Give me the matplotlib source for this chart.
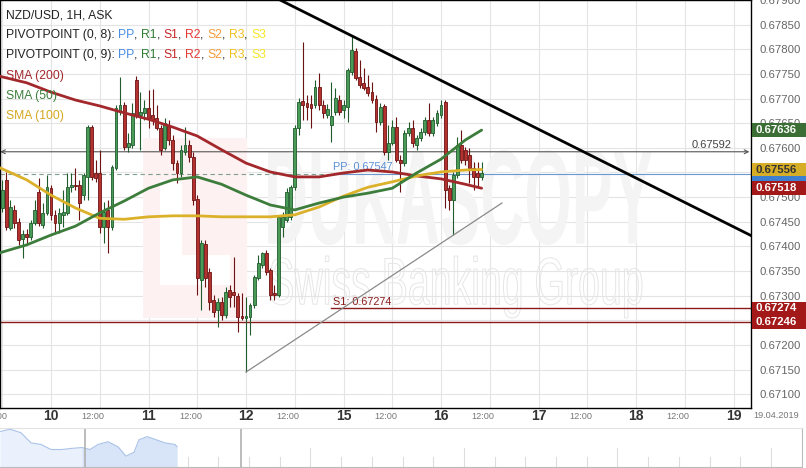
import numpy as np
import matplotlib
matplotlib.use("Agg")
import matplotlib.pyplot as plt
from matplotlib.patches import Rectangle, PathPatch
from matplotlib.textpath import TextPath
from matplotlib.font_manager import FontProperties
from matplotlib.transforms import Affine2D, blended_transform_factory

plt.rcParams['font.family'] = ['Liberation Sans', 'DejaVu Sans']

# time axis in hours, 0 = 09.04 00:00, weekend removed (12.04 -> 15.04)
hours = np.arange(12, 131)

opens = [.67478, .67535, .67437, .67474, .67449, .67415, .67425, .67419, .67447, .67510,
         .67443, .67468, .67518, .67464, .67447, .67464, .67468, .67520, .67524, .67524,
         .67504, .67541, .67642, .67549, .67549, .67439, .67474, .67439, .67559, .67673,
         .67687, .67602, .67606, .67738, .67667, .67671, .67681, .67667, .67660, .67640,
         .67600, .67646, .67616, .67569, .67549, .67591, .67606, .67581, .67496, .67332,
         .67405, .67348, .67291, .67271, .67287, .67261, .67311, .67307, .67299, .67259,
         .67254, .67256, .67281, .67336, .67362, .67386, .67352, .67305, .67301, .67439,
         .67453, .67460, .67520, .67640, .67695, .67691, .67689, .67687, .67723, .67687,
         .67667, .67646, .67673, .67697, .67677, .67683, .67754, .67796, .67744, .67732,
         .67723, .67713, .67699, .67652, .67685, .67591, .67610, .67642, .67575, .67569,
         .67630, .67640, .67606, .67620, .67632, .67656, .67630, .67650, .67667, .67693,
         .67518, .67494, .67545, .67606, .67596, .67585, .67559, .67549, .67541]
highs = [.67535, .67551, .67494, .67484, .67457, .67433, .67435, .67453, .67494, .67539,
         .67488, .67545, .67524, .67474, .67478, .67514, .67549, .67549, .67559, .67535,
         .67549, .67646, .67646, .67575, .67596, .67490, .67494, .67565, .67687, .67744,
         .67693, .67630, .67691, .67746, .67713, .67697, .67717, .67719, .67687, .67646,
         .67660, .67656, .67626, .67575, .67606, .67642, .67616, .67591, .67504, .67413,
         .67413, .67356, .67301, .67295, .67297, .67317, .67321, .67378, .67305, .67305,
         .67297, .67285, .67342, .67382, .67388, .67392, .67356, .67321, .67464, .67470,
         .67518, .67524, .67646, .67701, .67815, .67707, .67707, .67738, .67752, .67697,
         .67689, .67734, .67721, .67707, .67697, .67762, .67829, .67803, .67778, .67762,
         .67748, .67734, .67707, .67691, .67689, .67646, .67656, .67662, .67585, .67636,
         .67652, .67656, .67626, .67640, .67662, .67691, .67662, .67677, .67697, .67697,
         .67524, .67551, .67622, .67636, .67602, .67600, .67571, .67571, .67571]
lows = [.67470, .67433, .67433, .67437, .67403, .67376, .67403, .67413, .67443, .67441,
        .67437, .67464, .67453, .67429, .67427, .67439, .67464, .67510, .67514, .67453,
        .67494, .67494, .67535, .67531, .67427, .67407, .67386, .67433, .67555, .67667,
        .67596, .67591, .67600, .67660, .67596, .67656, .67640, .67646, .67636, .67585,
        .67596, .67606, .67555, .67529, .67541, .67585, .67571, .67484, .67301, .67271,
        .67317, .67271, .67256, .67236, .67250, .67254, .67277, .67277, .67226, .67250,
        .67145, .67220, .67275, .67332, .67356, .67342, .67291, .67291, .67297, .67419,
        .67449, .67453, .67514, .67626, .67656, .67656, .67640, .67681, .67677, .67660,
        .67660, .67612, .67667, .67667, .67660, .67652, .67748, .67738, .67721, .67717,
        .67705, .67691, .67632, .67646, .67585, .67575, .67606, .67571, .67510, .67563,
        .67624, .67602, .67596, .67614, .67626, .67624, .67624, .67644, .67660, .67478,
        .67474, .67423, .67539, .67569, .67565, .67529, .67514, .67520, .67535]
closes = [.67514, .67439, .67480, .67447, .67413, .67425, .67419, .67447, .67474, .67447,
          .67468, .67520, .67464, .67447, .67468, .67470, .67520, .67524, .67522, .67488,
          .67545, .67642, .67541, .67539, .67439, .67470, .67439, .67561, .67681, .67687,
          .67602, .67610, .67671, .67667, .67673, .67681, .67660, .67656, .67640, .67596,
          .67650, .67616, .67569, .67549, .67596, .67606, .67581, .67494, .67336, .67407,
          .67336, .67287, .67267, .67287, .67261, .67307, .67297, .67301, .67256, .67254,
          .67259, .67281, .67338, .67366, .67386, .67348, .67301, .67301, .67460, .67460,
          .67510, .67520, .67640, .67693, .67687, .67683, .67681, .67723, .67687, .67671,
          .67679, .67665, .67701, .67673, .67687, .67758, .67799, .67742, .67727, .67721,
          .67711, .67697, .67652, .67683, .67591, .67610, .67642, .67575, .67569, .67630,
          .67640, .67610, .67620, .67632, .67656, .67630, .67656, .67671, .67687, .67514,
          .67494, .67545, .67606, .67575, .67575, .67559, .67541, .67541, .67549]

# moving averages
sma_hours = [11, 18, 24, 30, 36, 42, 48, 54, 60, 66, 72, 78, 84, 90, 96, 102, 108, 114, 120, 126, 130]
sma200 = [.67746, .67732, .67713, .67697, .67685, .67671, .67658, .67642, .67624, .67596, .67569,
          .67551, .67541, .67541, .67549, .67555, .67551, .67543, .67537, .67526, .67518]
sma50 = [.67386, .67403, .67423, .67441, .67468, .67492, .67518, .67535, .67541, .67526, .67504,
         .67484, .67474, .67488, .67500, .67508, .67518, .67549, .67577, .67616, .67636]
sma100 = [.67561, .67535, .67504, .67478, .67457, .67455, .67460, .67462, .67462, .67460, .67460,
          .67460, .67464, .67480, .67502, .67520, .67531, .67543, .67551, .67555, .67556]

pp_level = 0.67547
s1_level = 0.67274
low_level = 0.67246
mark_level = 0.67592
resist_pts = ([80.4, 196.3], [0.67900, 0.67422])
support_pts = ([72, 135], [0.67145, 0.67488])

day_hours = [24, 48, 72, 96, 120, 144, 168, 192]
day_labels = ['10', '11', '12', '15', '16', '17', '18', '19']

# navigator overview (position in px, level 0..1)
nav_pos = [0, 10, 21, 31, 41, 51, 62, 72, 82, 90, 98, 108, 118, 126, 134, 139, 147, 154, 165, 175, 177]
nav_vals = [0.91, 0.97, 0.88, 0.62, 0.58, 0.45, 0.45, 0.48, 0.50, 0.45, 0.58, 0.65, 0.52, 0.28,
            0.38, 0.70, 0.78, 0.72, 0.62, 0.58, 0.52]

W, H = 806, 468
fig = plt.figure(figsize=(W / 100, H / 100), dpi=100)
ax = fig.add_axes([0, (H - 408) / H, 751 / W, 408 / H])
ax.set_xlim(11.446, 196.3)
ax.set_ylim(0.67072, 0.67900)

for h in np.arange(12, 196, 12):
    ax.axvline(h, color='#e4e4e4', lw=0.8, zorder=0)
for p in np.arange(0.671, 0.6791, 0.0005):
    ax.axhline(p, color='#e4e4e4', lw=0.8, zorder=0)


def watermark(text, box, fill, edge, weight='bold', lw=0):
    fp = FontProperties(family='Liberation Sans', weight=weight)
    tp = TextPath((0, 0), text, size=100, prop=fp)
    bb = tp.get_extents()
    x0, y0, x1, y1 = box
    tr = (Affine2D().translate(-bb.x0, -bb.y0)
          .scale((x1 - x0) / bb.width, (y1 - y0) / bb.height)
          .translate(x0, y0) + ax.transAxes)
    ax.add_patch(PathPatch(tp, transform=tr, fc=fill, ec=edge, lw=lw, zorder=0.5))


# logo + watermark
ax.add_patch(Rectangle((143 / 751, (408 - 318) / 408), 104 / 751, 180 / 408,
                       transform=ax.transAxes, fc='#fdf1f1', ec='none', zorder=0.4))
ax.add_patch(Rectangle((160 / 751, (408 - 285) / 408), 22 / 751, 105 / 408,
                       transform=ax.transAxes, fc='white', ec='none', zorder=0.45))
ax.add_patch(Rectangle((160 / 751, (408 - 285) / 408), 70 / 751, 30 / 408,
                       transform=ax.transAxes, fc='white', ec='none', zorder=0.45))
watermark('DUKASCOPY', (268 / 751, (408 - 245) / 408, 652 / 751, (408 - 150) / 408), '#f4f4f4', 'none')
watermark('Swiss Banking Group', (270 / 751, (408 - 318) / 408, 642 / 751, (408 - 256) / 408),
          'none', '#e6e6e6', weight='normal', lw=0.7)

# pivot / level lines
ax.plot([11.4, 93], [pp_level, pp_level], color='#7f9f8f', lw=0.8, ls=(0, (4, 3)), zorder=1)
ax.plot([93, 196.3], [pp_level, pp_level], color='#6a98cf', lw=0.8, zorder=1)
ax.plot([93, 196.3], [s1_level, s1_level], color='#8b1a1a', lw=1.0, zorder=1)
ax.axhline(low_level, color='#8b1a1a', lw=1.0, zorder=1)
ax.text(93.5, pp_level + 0.00003, 'PP: 0.67547', color='#5b8fd6', fontsize=7.8, va='bottom', zorder=2)
ax.text(93.5, s1_level + 0.00003, 'S1: 0.67274', color='#8b1a1a', fontsize=7.8, va='bottom', zorder=2)
ax.annotate('', xy=(11.5, mark_level), xytext=(195.9, mark_level),
            arrowprops=dict(arrowstyle='<->', color='#555555', lw=0.8, shrinkA=0, shrinkB=0,
                            mutation_scale=7), zorder=2)
ax.text(186.5, mark_level + 0.00004, '0.67592', color='#444444', fontsize=8, ha='center', va='bottom')

# candles
for h, o, hi, lo, c in zip(hours, opens, highs, lows, closes):
    up = c >= o
    fc = '#4a9a58' if up else '#b3312f'
    ec = '#1f5b2b' if up else '#6d1212'
    ax.vlines(h, lo, hi, color=ec, lw=0.8, zorder=3)
    ax.bar(h, max(abs(c - o), 0.00002), bottom=min(o, c), width=0.7,
           color=fc, edgecolor=ec, lw=0.6, zorder=4)

ax.plot(sma_hours, sma200, color='#a3282c', lw=2.0, zorder=5, solid_capstyle='round')
ax.plot(sma_hours, sma100, color='#dcb12a', lw=2.0, zorder=5, solid_capstyle='round')
ax.plot(sma_hours, sma50, color='#3c7d3c', lw=2.0, zorder=5, solid_capstyle='round')

ax.plot(*resist_pts, color='black', lw=2.0, zorder=6)
ax.plot(*support_pts, color='#8a8a8a', lw=0.9, zorder=6)

# axes styling
for s in ax.spines.values():
    s.set_color('black')
    s.set_linewidth(1.0)
ax.set_xticks([])
ax.yaxis.tick_right()
# labels at 0.67250 and 0.67550 sit fully under the price boxes, so they are left out
yt = [p for p in np.arange(0.671, 0.6791, 0.0005) if abs(p - 0.6725) > 1e-6 and abs(p - 0.6755) > 1e-6]
ax.set_yticks(yt)
ax.yaxis.set_major_formatter(matplotlib.ticker.FormatStrFormatter('%.5f'))
ax.tick_params(axis='y', length=0, pad=6, labelsize=8.2, labelcolor='#666666')

bt = blended_transform_factory(ax.transData, ax.transAxes)
for h, lab in zip(day_hours, day_labels):
    ax.text(h, -0.02, lab, transform=bt, ha='center', va='center', fontsize=10,
            color='#333333', fontweight='bold', clip_on=False)
for h in np.arange(12, 190, 24):
    ax.text(h - 1.6, -0.02, '12:00', transform=bt, ha='center', va='center', fontsize=6.6,
            color='#777777', clip_on=False)
fig.text(776 / W, 1 - 416 / H, '19.04.2019', ha='center', va='center', fontsize=6.6, color='#777777')

# price boxes on the right axis
bl = blended_transform_factory(ax.transAxes, ax.transData)
boxes = [(0.67636, '0.67636', '#3b6e34', 'white'),
         (0.67547, '', '#3d7fd1', 'white'),
         (0.67556, '0.67556', '#d6ad26', '#333333'),
         (0.67518, '0.67518', '#a31818', 'white'),
         (0.67274, '0.67274', '#a31818', 'white'),
         (0.67246, '0.67246', '#a31818', 'white')]
bh = 0.00028
for p, lab, fc, tc in boxes:
    ax.add_patch(Rectangle((1.0015, p - bh / 2), 0.072, bh, transform=bl, fc=fc, ec='none',
                           clip_on=False, zorder=10))
    if lab:
        ax.text(1.006, p, lab, transform=bl, color=tc, fontsize=8.2, fontweight='bold',
                va='center', ha='left', zorder=11, clip_on=False)

# navigator strip at the bottom
nav = fig.add_axes([0, 0.002, 802 / W, 39 / H])
nav.set_xlim(0, 802)
nav.set_ylim(0, 1)
nav.fill_between(nav_pos, nav_vals, 0, color='#eaf1fc', lw=0)
sel = [i for i, p in enumerate(nav_pos) if p >= 82]
nav.fill_between([nav_pos[i] for i in sel], [nav_vals[i] for i in sel], 0, color='#d8e4f7', lw=0)
nav.plot(nav_pos, nav_vals, color='#a9c2e8', lw=0.8)
nav.axvline(85, color='#b0b0b0', lw=1.2)
nav.axvline(241, color='#b0b0b0', lw=1.2)
for i, tx in enumerate(np.arange(187.7, 800, 30.7)):
    nav.plot([tx, tx], [0, 0.5 if i % 5 == 4 else 0.25], color='#dddddd', lw=0.8)
for k, s in nav.spines.items():
    s.set_color('#e2e2e2' if k == 'top' else '#bbbbbb')
nav.spines['left'].set_visible(False)
nav.set_xticks([])
nav.set_yticks([])

# legend block top-left
r = fig.canvas.get_renderer()


def colored_line(x, y, parts):
    for s, c in parts:
        t = fig.text(x / W, 1 - y / H, s, color=c, fontsize=8.7, va='center', ha='left')
        x += t.get_window_extent(renderer=r).width


fig.text(6 / W, 1 - 15 / H, 'NZD/USD, 1H, ASK', fontsize=8.7, color='#222222', va='center')
piv_colors = [('PP', '#4a8fe0'), ('R1', '#2e7d32'), ('S1', '#c62828'), ('R2', '#e53935'),
              ('S2', '#f39c3c'), ('R3', '#f0c020'), ('S3', '#f5e625')]
for y, n in [(35, 8), (55, 9)]:
    parts = [('PIVOTPOINT (0, %d): ' % n, '#222222')]
    for i, (lab, c) in enumerate(piv_colors):
        parts.append((lab, c))
        if i < len(piv_colors) - 1:
            parts.append((', ', '#222222'))
    colored_line(6, y, parts)
fig.text(6 / W, 1 - 76 / H, 'SMA (200)', fontsize=8.7, color='#a3282c', va='center')
fig.text(6 / W, 1 - 96 / H, 'SMA (50)', fontsize=8.7, color='#3c7d3c', va='center')
fig.text(6 / W, 1 - 116 / H, 'SMA (100)', fontsize=8.7, color='#d4a820', va='center')

fig.savefig('out.png', dpi=100)
